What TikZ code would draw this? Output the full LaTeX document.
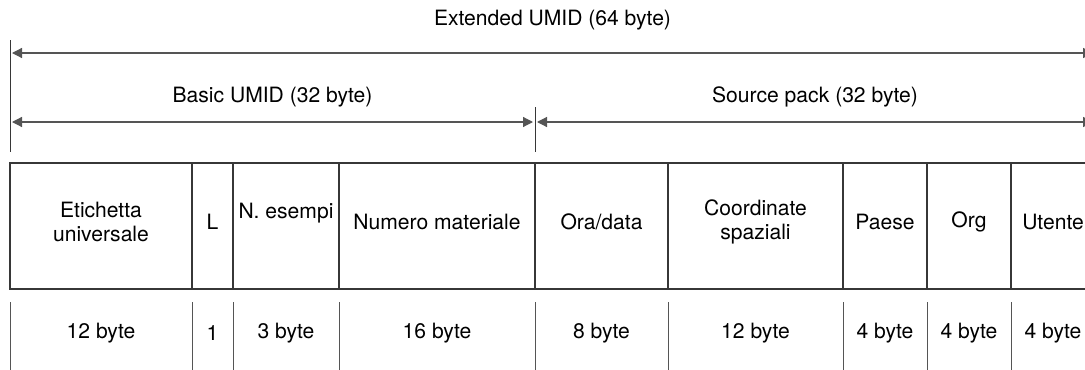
\documentclass[tikz,border=0pt]{standalone}
\usepackage{fontspec}
\setmainfont{TeX Gyre Heros}
\usetikzlibrary{arrows.meta, positioning, calc}
\definecolor{rulegray}{RGB}{55,55,55}
\definecolor{arrowgray}{RGB}{85,85,85}
\tikzset{
  cell/.style={draw=rulegray, line width=1pt, minimum height=3.15cm, inner sep=0pt, outer sep=0pt},
  celltext/.style={align=center, font=\fontsize{15}{16.5}\selectfont, inner sep=1pt},
  bytetext/.style={font=\fontsize{15}{16.5}\selectfont, inner sep=1pt},
  sepline/.style={arrowgray, line width=0.7pt},
  guide/.style={rulegray, line width=0.7pt},
  spanarrow/.style={{Triangle[length=2.5mm, width=2.5mm]}-{Triangle[length=2.5mm, width=2.5mm]}, arrowgray, line width=0.85pt, shorten <=0.05cm, shorten >=0.05cm},
}
\begin{document}
\begin{tikzpicture}[node distance=0pt]
  \useasboundingbox (0,0) rectangle (27.125,9.225);
  % campi del UMID
  \node[cell, minimum width=4.55cm, anchor=north west] (etich) at (0.25,5.15) {};
  \node[cell, minimum width=1.025cm, right=of etich] (lfld) {};
  \node[cell, minimum width=2.65cm, right=of lfld] (esempi) {};
  \node[cell, minimum width=4.9cm, right=of esempi] (numero) {};
  \node[cell, minimum width=3.325cm, right=of numero] (oradata) {};
  \node[cell, minimum width=4.375cm, right=of oradata] (coord) {};
  \node[cell, minimum width=2.1cm, right=of coord] (paese) {};
  \node[cell, minimum width=2.1cm, right=of paese] (org) {};
  \node[cell, minimum width=2.1cm, right=of org] (utente) {};

  \node[celltext] (tetich) at ([yshift=1mm]etich.center) {Etichetta\\universale};
  \node[celltext] (tlfld) at ([yshift=1mm]lfld.center) {L};
  \node[celltext] (tesempi) at ([yshift=3.3mm]esempi.center) {N. esempi};
  \node[celltext] (tnumero) at ([yshift=1mm]numero.center) {Numero materiale};
  \node[celltext] (toradata) at ([yshift=1mm]oradata.center) {Ora/data};
  \node[celltext] (tcoord) at ([yshift=1mm]coord.center) {Coordinate\\spaziali};
  \node[celltext] (tpaese) at ([yshift=1mm]paese.center) {Paese};
  \node[celltext] (torg) at ([yshift=1mm]org.center) {Org};
  \node[celltext] (tutente) at ([yshift=1mm]utente.center) {Utente};

  % lunghezze
  \coordinate (byterow) at (0,0.9);
  \coordinate (sepbot) at (0,-0.1);
  \node[bytetext] (betich) at (etich |- byterow) {12 byte};
  \node[bytetext] (blfld) at (lfld |- byterow) {1};
  \node[bytetext] (besempi) at (esempi |- byterow) {3 byte};
  \node[bytetext] (bnumero) at (numero |- byterow) {16 byte};
  \node[bytetext] (boradata) at (oradata |- byterow) {8 byte};
  \node[bytetext] (bcoord) at (coord |- byterow) {12 byte};
  \node[bytetext] (bpaese) at (paese |- byterow) {4 byte};
  \node[bytetext] (borg) at (org |- byterow) {4 byte};
  \node[bytetext] (butente) at (utente |- byterow) {4 byte};
  \foreach \a in {etich.south west, lfld.south west, esempi.south west, numero.south west, oradata.south west, coord.south west, paese.south west, org.south west, utente.south west, utente.south east}
    \draw[sepline] ([yshift=-3.25mm]\a) -- (\a |- sepbot);

  % estensioni
  \coordinate (extl) at (0.25,7.9);
  \coordinate (extr) at (27.375,7.9);
  \coordinate (basl) at (0.25,6.175);
  \coordinate (mid) at (13.375,6.175);
  \coordinate (srcr) at (27.375,6.175);
  \draw[guide] (0.25,8.225) -- (0.25,5.425);
  \draw[guide] (13.375,6.55) -- (13.375,5.425);
  \draw[spanarrow] (extl) -- (extr);
  \draw[spanarrow] (basl) -- (mid);
  \draw[spanarrow] (mid) -- (srcr);
  \node[bytetext] (extlabel) at ($(extl)!0.5!(extr)+(0,0.825)$) {Extended UMID (64 byte)};
  \node[bytetext] (baslabel) at ($(basl)!0.5!(mid)+(0,0.625)$) {Basic UMID (32 byte)};
  \node[bytetext] (srclabel) at ($(mid)!0.5!(srcr)+(0,0.625)$) {Source pack (32 byte)};
\end{tikzpicture}
\end{document}
